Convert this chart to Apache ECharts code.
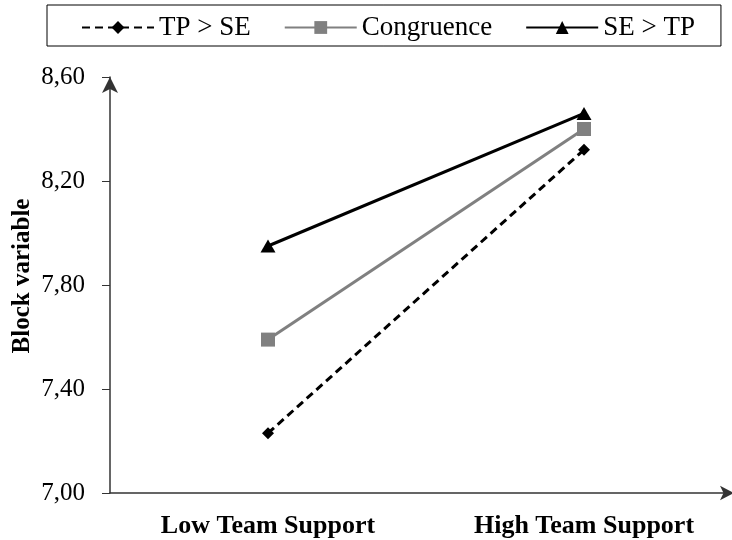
<!DOCTYPE html>
<html>
<head>
<meta charset="utf-8">
<script src="https://cdn.jsdelivr.net/npm/echarts@6/dist/echarts.min.js"></script>
<style>
  html, body { margin: 0; padding: 0; background: #fff; }
  #chart-container { width: 732px; height: 540px; }
</style>
</head>
<body>
<div id="chart-container"></div>
<script>
var dom = document.getElementById("chart-container");
var myChart = echarts.init(dom, null, { renderer: "canvas" });

var categories = ["Low Team Support", "High Team Support"];
var seriesNames = ["TP > SE", "Congruence", "SE > TP"];
var tpOverSe = [7.23, 8.32];
var congruence = [7.59, 8.4];
var seOverTp = [7.95, 8.46];

var font = "Liberation Serif";

var option = {
  animation: false,
  textStyle: { fontFamily: font },
  legend: {
    top: 5,
    left: 47,
    padding: [9, 26, 5, 34],
    borderColor: "#000",
    borderWidth: 1,
    itemGap: 33,
    itemWidth: 72,
    itemHeight: 16,
    textStyle: { fontFamily: font, fontSize: 27, color: "#000" },
    data: seriesNames,
  },
  grid: {
    left: 110,
    right: -10,
    top: 77,
    bottom: 47,
    outerBoundsMode: "none",
  },
  xAxis: {
    type: "category",
    data: categories,
    boundaryGap: true,
    axisLine: {
      symbol: ["none", "arrow"],
      symbolSize: [11, 14],
      symbolOffset: [0, -8],
      lineStyle: { color: "#333", width: 1.5 },
    },
    axisTick: { show: false },
    axisLabel: {
      fontFamily: font,
      fontSize: 26,
      fontWeight: "bold",
      color: "#000",
      margin: 20,
    },
  },
  yAxis: {
    type: "value",
    min: 7.0,
    max: 8.6,
    interval: 0.4,
    name: "Block variable",
    nameLocation: "middle",
    nameGap: 75,
    nameMoveOverlap: false,
    nameTextStyle: {
      fontFamily: font,
      fontSize: 25,
      fontWeight: "bold",
      color: "#000",
      padding: [0, 0, 0, 18],
    },
    splitLine: { show: false },
    axisLine: {
      show: true,
      symbol: ["none", "arrow"],
      symbolSize: [12, 16],
      lineStyle: { color: "#333", width: 1.5 },
    },
    axisTick: { show: true, inside: false, length: 8, lineStyle: { color: "#333" } },
    axisLabel: {
      fontFamily: font,
      fontSize: 25,
      color: "#000",
      margin: 25,
      formatter: function (v) {
        return v.toFixed(2).replace(".", ",");
      },
    },
  },
  series: [
    {
      name: seriesNames[0],
      type: "line",
      data: tpOverSe,
      symbol: "diamond",
      symbolSize: 12,
      itemStyle: { color: "#000" },
      lineStyle: { color: "#000", width: 3, type: [8, 5] },
    },
    {
      name: seriesNames[1],
      type: "line",
      data: congruence,
      symbol: "rect",
      symbolSize: 14,
      itemStyle: { color: "#808080" },
      lineStyle: { color: "#808080", width: 3 },
    },
    {
      name: seriesNames[2],
      type: "line",
      data: seOverTp,
      symbol: "triangle",
      symbolSize: [15, 13],
      itemStyle: { color: "#000" },
      lineStyle: { color: "#000", width: 3 },
    },
  ],
};

myChart.setOption(option);
</script>
</body>
</html>
